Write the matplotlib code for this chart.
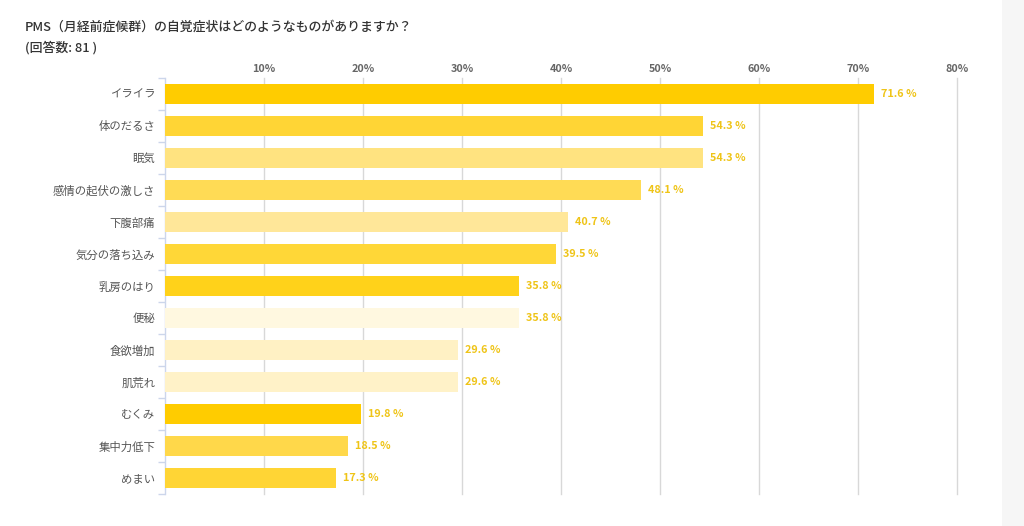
import matplotlib
matplotlib.use("Agg")
import matplotlib.pyplot as plt
from matplotlib.patches import Rectangle
import numpy as np

plt.rcParams['font.family'] = ['Noto Sans CJK JP', 'DejaVu Sans']

categories = ["イライラ", "体のだるさ", "眠気", "感情の起伏の激しさ", "下腹部痛",
              "気分の落ち込み", "乳房のはり", "便秘", "食欲増加", "肌荒れ",
              "むくみ", "集中力低下", "めまい"]
values = [71.6, 54.3, 54.3, 48.1, 40.7, 39.5, 35.8, 35.8, 29.6, 29.6, 19.8, 18.5, 17.3]
colors = ["#FFCC00", "#FFD535", "#FFE380", "#FFDB55", "#FFE799", "#FFD737",
          "#FFD21A", "#FFF8E0", "#FFF1C4", "#FFF2C8", "#FFCC00", "#FFD84A", "#FFD535"]
xticks = [10, 20, 30, 40, 50, 60, 70, 80]
xtick_labels = ["10%", "20%", "30%", "40%", "50%", "60%", "70%", "80%"]
title = "PMS（月経前症候群）の自覚症状はどのようなものがありますか？"
subtitle = "(回答数: 81 )"

W, H = 1024, 526
fig = plt.figure(figsize=(W / 100, H / 100), dpi=100)
fig.patches.append(Rectangle((1002 / W, 0), 22 / W, 1, transform=fig.transFigure,
                             facecolor="#f6f6f6", edgecolor="none", zorder=-1))

left, right, top, bottom = 165 / W, 957 / W, 78 / H, 494 / H
ax = fig.add_axes([left, 1 - bottom, right - left, bottom - top])

y = np.arange(len(categories))
ax.barh(y, values, height=0.6, color=colors, zorder=3)
ax.set_xlim(0, 80)
ax.set_ylim(len(categories) - 0.5, -0.5)

for yi, v in zip(y, values):
    ax.text(v + 0.7, yi, f"{v:.1f} %", va="center", ha="left", fontsize=7.8,
            fontweight="bold", color="#EFC417", zorder=4)

ax.set_xticks(xticks)
ax.set_xticklabels(xtick_labels, fontsize=7.8, fontweight="bold", color="#666666")
ax.xaxis.tick_top()
ax.tick_params(axis="x", length=0, pad=3)
ax.grid(axis="x", color="#d8d8d8", linewidth=1, zorder=1)
for gl in ax.get_xgridlines():
    gl.set_clip_on(False)

ax.set_yticks(y)
ax.set_yticklabels(categories, fontsize=8.2, color="#555555")
ax.set_yticks(np.arange(len(categories) + 1) - 0.5, minor=True)
ax.tick_params(axis="y", which="major", length=0, pad=7)
ax.tick_params(axis="y", which="minor", length=5, color="#ccd6eb", width=1)

for s in ["top", "right", "bottom"]:
    ax.spines[s].set_visible(False)
ax.spines["left"].set_color("#ccd6eb")
ax.spines["left"].set_linewidth(1)

fig.text(25 / W, 1 - 27 / H, title, fontsize=9.3, fontweight="medium",
         color="#333333", va="center", ha="left")
fig.text(25 / W, 1 - 48 / H, subtitle, fontsize=9.3, fontweight="medium",
         color="#333333", va="center", ha="left")

fig.savefig("out.png", dpi=100, facecolor="white")
